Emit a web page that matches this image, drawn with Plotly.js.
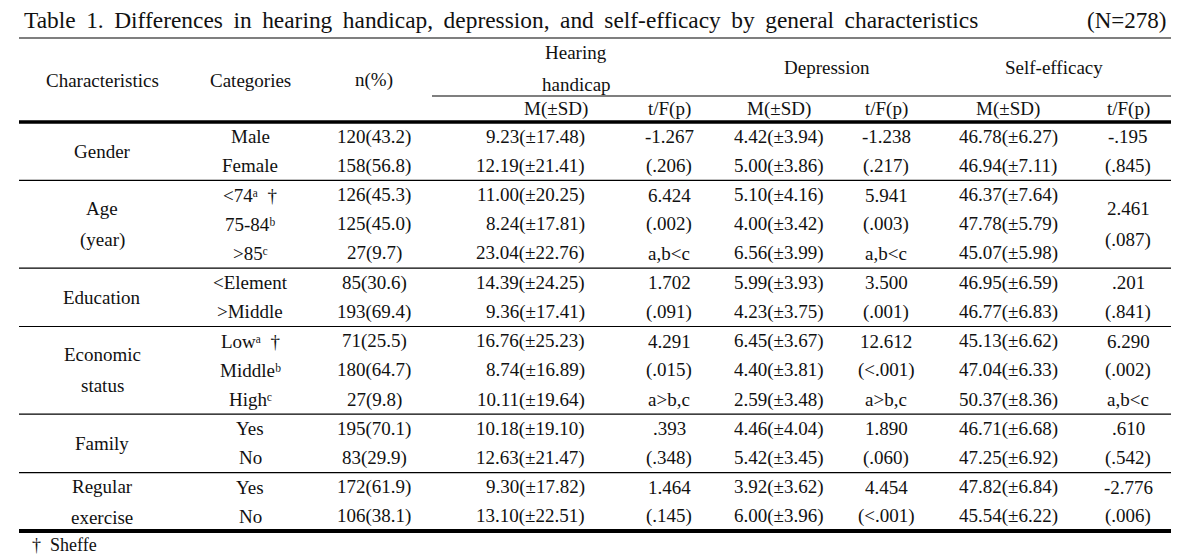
<!DOCTYPE html>
<html>
<head>
<meta charset="utf-8">
<script src="https://cdn.plot.ly/plotly-3.0.1.min.js"></script>
<style>html,body{margin:0;padding:0;background:#fff;}#chart{width:1190px;height:557px;}</style>
</head>
<body>
<div id="chart"></div>
<script>
// ---------- data ----------
const titleText = "Table 1. Differences in hearing handicap, depression, and self-efficacy by general characteristics";
const nTotal = "(N=278)";
const groupLabels = [["Gender"], ["Age", "(year)"], ["Education"], ["Economic", "status"], ["Family"], ["Regular", "exercise"]];
const groupSizes = [2, 3, 2, 3, 2, 2];
const categories = ["Male", "Female", "<74", "75-84", ">85", "<Element", ">Middle", "Low", "Middle", "High", "Yes", "No", "Yes", "No"];
const catSup = ["", "", "ᵃ", "ᵇ", "ᶜ", "", "", "ᵃ", "ᵇ", "ᶜ", "", "", "", ""];
const catMark = ["", "", "†", "", "", "", "", "†", "", "", "", "", "", ""];
const nPct = ["120(43.2)", "158(56.8)", "126(45.3)", "125(45.0)", "27(9.7)", "85(30.6)", "193(69.4)", "71(25.5)", "180(64.7)", "27(9.8)", "195(70.1)", "83(29.9)", "172(61.9)", "106(38.1)"];
const hearingM = ["9.23(±17.48)", "12.19(±21.41)", "11.00(±20.25)", "8.24(±17.81)", "23.04(±22.76)", "14.39(±24.25)", "9.36(±17.41)", "16.76(±25.23)", "8.74(±16.89)", "10.11(±19.64)", "10.18(±19.10)", "12.63(±21.47)", "9.30(±17.82)", "13.10(±22.51)"];
const hearingT = ["-1.267", "(.206)", "6.424", "(.002)", "a,b<c", "1.702", "(.091)", "4.291", "(.015)", "a>b,c", ".393", "(.348)", "1.464", "(.145)"];
const depM = ["4.42(±3.94)", "5.00(±3.86)", "5.10(±4.16)", "4.00(±3.42)", "6.56(±3.99)", "5.99(±3.93)", "4.23(±3.75)", "6.45(±3.67)", "4.40(±3.81)", "2.59(±3.48)", "4.46(±4.04)", "5.42(±3.45)", "3.92(±3.62)", "6.00(±3.96)"];
const depT = ["-1.238", "(.217)", "5.941", "(.003)", "a,b<c", "3.500", "(.001)", "12.612", "(<.001)", "a>b,c", "1.890", "(.060)", "4.454", "(<.001)"];
const selfM = ["46.78(±6.27)", "46.94(±7.11)", "46.37(±7.64)", "47.78(±5.79)", "45.07(±5.98)", "46.95(±6.59)", "46.77(±6.83)", "45.13(±6.62)", "47.04(±6.33)", "50.37(±8.36)", "46.71(±6.68)", "47.25(±6.92)", "47.82(±6.84)", "45.54(±6.22)"];
// self-efficacy t/F(p): per row, except the Age group, which spans its rows
const selfT = ["-.195", "(.845)", null, null, null, ".201", "(.841)", "6.290", "(.002)", "a,b<c", ".610", "(.542)", "-2.776", "(.006)"];
const selfTAge = ["2.461", "(.087)"];
const headerTop = ["Characteristics", "Categories", "n(%)"];
const headerGroups = [["Hearing", "handicap"], ["Depression"], ["Self-efficacy"]];
const subHeaders = ["M(±SD)", "t/F(p)", "M(±SD)", "t/F(p)", "M(±SD)", "t/F(p)"];
const footnote = "†  Sheffe";

// ---------- geometry / style ----------
const W = 1190, H = 557;
const FONT = "Liberation Serif, Times New Roman, serif";
const COLOR = "#111";
const FS = 19;
const left = 19, right = 1171;
const topRule = 38, subRule = 96, headRule = 122, bottomRule = 531;
const rowH = (bottomRule - headRule) / groupSizes.reduce((a, b) => a + b, 0);
const colX = {group: 102, cat: 250, n: 374, hM: 587, hT: 669, dM: 779, dT: 886, sM: 1008, sT: 1128};
const subHeaderX = [556, 669, 779, 886, 1008, 1128];
const groupHeaderX = [576, 827, 1054];
const twoLineGap = 31;

function esc(s) { return s.replace(/&/g, "&amp;").replace(/</g, "&lt;").replace(/>/g, "&gt;"); }

const annotations = [];
function ann(text, x, y, anchor, size) {
  annotations.push({
    text: text, x: x, y: y, xref: "x", yref: "y",
    xanchor: anchor || "center", yanchor: "middle", showarrow: false,
    font: {family: FONT, size: size || FS, color: COLOR}
  });
}
const shapes = [];
function hline(y, x0, x1, w) {
  shapes.push({type: "line", xref: "x", yref: "y", x0: x0, x1: x1, y0: y, y1: y, line: {color: "#000", width: w}});
}

// title
ann(titleText.replace(/ /g, " \u2009"), 22, 20, "left", 23.4);
ann(esc(nTotal), 1168, 20, "right", 23);

// header
hline(topRule, left, right, 1.2);
hline(subRule, 432, right, 1.2);
hline(headRule, left, right, 3.5);
ann(headerTop[0], colX.group, 80);
ann(headerTop[1], colX.cat, 80);
ann(headerTop[2], colX.n, 80);
ann(headerGroups[0][0], groupHeaderX[0], 52);
ann(headerGroups[0][1], groupHeaderX[0], 84);
ann(headerGroups[1][0], groupHeaderX[1], 67);
ann(headerGroups[2][0], groupHeaderX[2], 67);
subHeaders.forEach((t, i) => ann(esc(t), subHeaderX[i], 109));

// body
let row = 0;
groupSizes.forEach((size, g) => {
  const gTop = headRule + row * rowH;
  const gMid = gTop + size * rowH / 2;
  const lines = groupLabels[g];
  if (lines.length === 1) ann(lines[0], colX.group, gMid);
  else lines.forEach((l, k) => ann(l, colX.group, gMid + (k - (lines.length - 1) / 2) * twoLineGap));
  if (g === 1) selfTAge.forEach((l, k) => ann(esc(l), colX.sT, gMid + (k - 0.5) * twoLineGap));
  for (let r = 0; r < size; r++) {
    const i = row + r;
    const y = gTop + (r + 0.5) * rowH;
    let cat = esc(categories[i]) + catSup[i];
    if (catMark[i]) cat += "  " + catMark[i];
    ann(cat, colX.cat, y);
    ann(nPct[i], colX.n, y);
    ann(hearingM[i], colX.hM, y, "right");
    ann(esc(hearingT[i]), colX.hT, y);
    ann(depM[i], colX.dM, y);
    ann(esc(depT[i]), colX.dT, y);
    ann(selfM[i], colX.sM, y);
    if (selfT[i] !== null) ann(esc(selfT[i]), colX.sT, y);
  }
  row += size;
  if (g < groupSizes.length - 1) hline(headRule + row * rowH, left, right, 1.2);
});
hline(bottomRule, left, right, 4);
ann(footnote, 30, 545, "left", 18);

const layout = {
  width: W, height: H,
  margin: {l: 0, r: 0, t: 0, b: 0},
  paper_bgcolor: "#fff", plot_bgcolor: "#fff",
  xaxis: {range: [0, W], visible: false, fixedrange: true},
  yaxis: {range: [H, 0], visible: false, fixedrange: true},
  showlegend: false,
  annotations: annotations,
  shapes: shapes
};
Plotly.newPlot("chart", [], layout, {displayModeBar: false, staticPlot: true});
</script>
</body>
</html>
